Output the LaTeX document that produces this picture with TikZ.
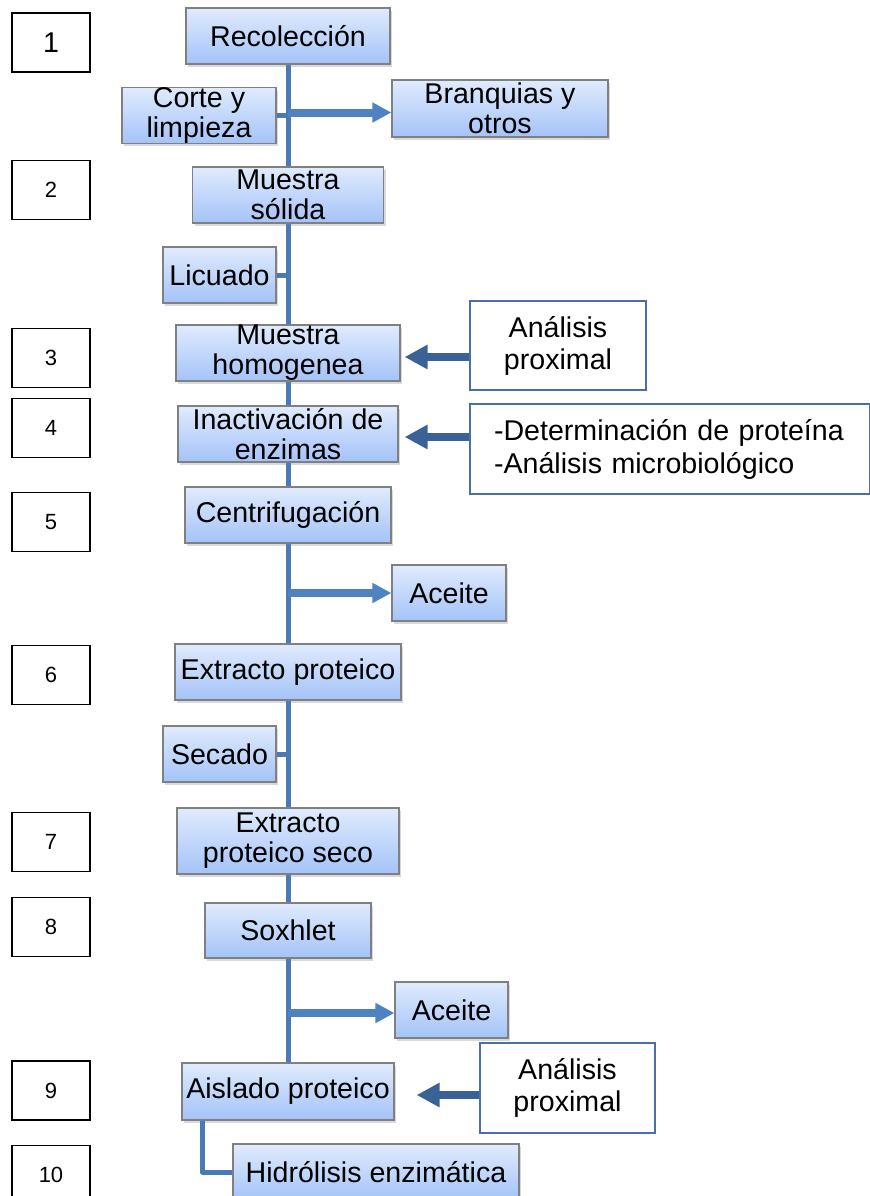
\documentclass[tikz,border=0pt]{standalone}
\usepackage{fontspec}
\setmainfont{Liberation Sans}
\usetikzlibrary{shadows,arrows.meta,backgrounds}
\definecolor{trunkc}{HTML}{4A7AB5}
\definecolor{brc}{HTML}{4F82C0}
\definecolor{darrowc}{HTML}{3A6296}
\definecolor{gtop}{HTML}{E0EBFD}
\definecolor{gbot}{HTML}{A4C3F8}
\definecolor{wborder}{HTML}{4A6FA8}
\begin{document}
\begin{tikzpicture}[x=0.5pt,y=-0.5pt,
  gbox/.style={draw=black!50, line width=0.6pt, top color=gtop, bottom color=gbot,
    inner sep=0pt, align=center, font=\fontsize{14.3}{15}\selectfont,
    drop shadow={shadow xshift=1pt, shadow yshift=-1.5pt, opacity=0.3}},
  wbox/.style={draw=wborder, line width=1pt, fill=white, inner sep=0pt, align=center,
    font=\fontsize{14.3}{16}\selectfont},
  nbox/.style={draw=black, line width=0.8pt, minimum width=39pt, minimum height=29.5pt,
    inner sep=0pt, font=\fontsize{11}{13}\selectfont},
  trunkline/.style={draw=trunkc, line width=2.5pt},
  brarrow/.style={draw=brc, line width=4pt, -{Triangle[length=9.5pt,width=9.5pt]}},
  darrow/.style={draw=darrowc, line width=3.8pt, -{Triangle[length=11.5pt,width=11.5pt]}}
]
\useasboundingbox (0,0) rectangle (870,1196);

% number boxes
\node[nbox, font=\fontsize{14.3}{15}\selectfont] (n1) at (51,42.5) {1};
\node[nbox] (n2) at (51,190) {2};
\node[nbox] (n3) at (51,358) {3};
\node[nbox] (n4) at (51,428) {4};
\node[nbox] (n5) at (51,522) {5};
\node[nbox] (n6) at (51,675) {6};
\node[nbox] (n7) at (51,842) {7};
\node[nbox] (n8) at (51,927) {8};
\node[nbox] (n9) at (51,1090.5) {9};
\node[nbox] (n10) at (51,1175) {10};

% main process boxes
\node[gbox, minimum width=102pt, minimum height=28pt] (rec) at (288,36) {Recolección};
\node[gbox, minimum width=77pt, minimum height=27.5pt] (corte) at (199,115.5) {Corte y\\limpieza};
\node[gbox, minimum width=108pt, minimum height=28.5pt] (bran) at (500,108.5) {Branquias y\\otros};
\node[gbox, minimum width=95.5pt, minimum height=28pt] (msol) at (288,195) {Muestra\\sólida};
\node[gbox, minimum width=56.5pt, minimum height=28pt] (lic) at (219.5,275) {Licuado};
\node[gbox, minimum width=112pt, minimum height=28pt] (mhom) at (288,353) {Muestra\\homogenea};
\node[gbox, minimum width=110pt, minimum height=28pt] (inac) at (288,434) {Inactivación de\\enzimas};
\node[gbox, minimum width=103pt, minimum height=28pt] (cent) at (288,515) {Centrifugación};
\node[gbox, minimum width=57pt, minimum height=28pt] (ace1) at (449,593) {Aceite};
\node[gbox, minimum width=113pt, minimum height=28pt] (ext) at (288,672) {Extracto proteico};
\node[gbox, minimum width=56.5pt, minimum height=28pt] (sec) at (219.5,754) {Secado};
\node[gbox, minimum width=111pt, minimum height=33pt] (exts) at (288,841) {Extracto\\proteico seco};
\node[gbox, minimum width=83pt, minimum height=27.5pt] (sox) at (288,930.5) {Soxhlet};
\node[gbox, minimum width=56.5pt, minimum height=28pt] (ace2) at (451.5,1010) {Aceite};
\node[gbox, minimum width=106pt, minimum height=28.5pt] (ais) at (288,1091.5) {Aislado proteico};
\node[gbox, minimum width=143pt, minimum height=28pt] (hid) at (376,1172) {Hidrólisis enzimática};

% analysis boxes
\node[wbox, minimum width=88pt, minimum height=44.5pt] (ap1) at (558,345.5) {Análisis\\proximal};
\node[wbox, minimum width=200pt, minimum height=45pt, inner xsep=12pt, text width=176pt,
  align=left, font=\fontsize{14.3}{16.5}\selectfont] (det) at (670,449)
  {-Determinación de proteína\\-Análisis microbiológico};
\node[wbox, minimum width=87.5pt, minimum height=45pt] (ap2) at (567.5,1088) {Análisis\\proximal};

% trunk and stubs
\begin{pgfonlayer}{background}
\draw[trunkline] (rec.south) -- (ais.north);
\end{pgfonlayer}
\draw[trunkline] (corte.east) -- (corte.east -| rec.south);
\draw[trunkline] (lic.east) -- (lic.east -| rec.south);
\draw[trunkline] (sec.east) -- (sec.east -| rec.south);
\draw[trunkline, line join=round] ([xshift=10.5pt]ais.south west) |- (hid.west);

% branch arrows
\draw[brarrow] ([yshift=-2pt]bran.west -| rec.south) -- ([yshift=-2pt]bran.west);
\draw[brarrow] (ace1.west -| rec.south) -- (ace1.west);
\draw[brarrow] ([yshift=-1.5pt]ace2.west -| rec.south) -- ([yshift=-1.5pt]ace2.west);

% analysis arrows
\draw[darrow, shorten >=2pt] ([yshift=-2pt]mhom.east -| ap1.west) -- ([yshift=-2pt]mhom.east);
\draw[darrow, shorten >=3pt] ([yshift=-1.5pt]inac.east -| det.west) -- ([yshift=-1.5pt]inac.east);
\draw[darrow, shorten >=11pt] ([yshift=-1.75pt]ais.east -| ap2.west) -- ([yshift=-1.75pt]ais.east);
\end{tikzpicture}
\end{document}
